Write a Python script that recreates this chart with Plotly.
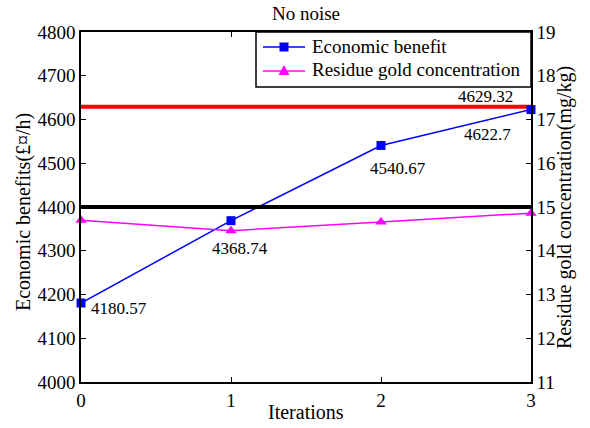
import plotly.graph_objects as go

iterations = [0, 1, 2, 3]
economic_benefit = [4180.57, 4368.74, 4540.67, 4622.7]
residue_gold = [14.70, 14.46, 14.66, 14.86]
benefit_labels = ["4180.57", "4368.74", "4540.67", "4622.7"]
upper_limit = 4629.32
residue_limit = 15
series_names = ["Economic benefit", "Residue gold concentration"]
series_colors = ["#0000ff", "#ff00ff"]

FONT = "Liberation Serif"
W, H = 590, 428
ML, MR, MT, MB = 81, 59, 32, 46
PW, PH = W - ML - MR, H - MT - MB


def px(x):
    return (x - ML) / PW


def py(y):
    return (MT + PH - y) / PH


fig = go.Figure()

# limit lines
fig.add_trace(go.Scatter(x=[iterations[0], iterations[-1]], y=[upper_limit, upper_limit],
                         mode="lines", line=dict(color="#ff0000", width=4),
                         showlegend=False, hoverinfo="skip"))
fig.add_trace(go.Scatter(x=[iterations[0], iterations[-1]], y=[residue_limit, residue_limit],
                         mode="lines", line=dict(color="#000000", width=4), yaxis="y2",
                         showlegend=False, hoverinfo="skip"))

fig.add_trace(go.Scatter(x=iterations, y=economic_benefit, mode="lines+markers",
                         name=series_names[0], showlegend=False,
                         line=dict(color=series_colors[0], width=1.5),
                         marker=dict(symbol="square", size=9, color=series_colors[0]),
                         cliponaxis=False))
fig.add_trace(go.Scatter(x=iterations, y=residue_gold, mode="lines+markers",
                         name=series_names[1], yaxis="y2", showlegend=False,
                         line=dict(color=series_colors[1], width=1.5),
                         marker=dict(symbol="triangle-up", size=10, color=series_colors[1]),
                         cliponaxis=False))

# value labels: (xshift, yshift, anchor)
label_pos = [(8, -5, "left"), (9, -28, "center"), (17, -23, "center"), (-44, -25, "center")]
for xi, yi, txt, (sx, sy, anc) in zip(iterations, economic_benefit, benefit_labels, label_pos):
    fig.add_annotation(x=xi, y=yi, text=txt, showarrow=False, xshift=sx, yshift=sy,
                       xanchor=anc, yanchor="middle",
                       font=dict(family=FONT, size=17, color="black"))
fig.add_annotation(x=iterations[-1], y=upper_limit, text=f"{upper_limit:.2f}", showarrow=False,
                   xshift=-46, yshift=10, xanchor="center", yanchor="middle",
                   font=dict(family=FONT, size=17, color="black"))

# axis titles
title_font = dict(family=FONT, size=20, color="black")
fig.add_annotation(x=0.5, y=py(412), xref="paper", yref="paper", text="Iterations",
                   showarrow=False, font=title_font, xanchor="center", yanchor="middle")
fig.add_annotation(x=px(24), y=py(212), xref="paper", yref="paper", text="Economic benefits(£¤/h)",
                   textangle=-90, showarrow=False, font=title_font, xanchor="center", yanchor="middle")
fig.add_annotation(x=px(564), y=py(208), xref="paper", yref="paper",
                   text="Residue gold concentration(mg/kg)",
                   textangle=-90, showarrow=False, font=title_font, xanchor="center", yanchor="middle")

# boxed legend in the top-right corner of the axes
box = dict(x0=256, x1=531, y0=32, y1=87)
fig.add_shape(type="rect", xref="paper", yref="paper",
              x0=px(box["x0"]), x1=px(box["x1"]), y0=py(box["y1"]), y1=py(box["y0"]),
              fillcolor="white", line=dict(color="black", width=1.5), layer="above")
rows = [47, 71]
for name, color, ry, sym in zip(series_names, series_colors, rows, ["square", "triangle"]):
    fig.add_shape(type="line", xref="paper", yref="paper",
                  x0=px(263), x1=px(305), y0=py(ry), y1=py(ry),
                  line=dict(color=color, width=1.5), layer="above")
    if sym == "square":
        fig.add_shape(type="rect", xref="paper", yref="paper",
                      x0=px(279.5), x1=px(288.5), y0=py(ry + 4.5), y1=py(ry - 4.5),
                      fillcolor=color, line=dict(color=color, width=0), layer="above")
    else:
        path = (f"M {px(278.5)},{py(ry + 4)} L {px(289.5)},{py(ry + 4)} "
                f"L {px(284)},{py(ry - 6)} Z")
        fig.add_shape(type="path", xref="paper", yref="paper", path=path,
                      fillcolor=color, line=dict(color=color, width=0), layer="above")
    fig.add_annotation(x=px(310), y=py(ry - 1), xref="paper", yref="paper", text=name,
                       showarrow=False, xanchor="left", yanchor="middle",
                       font=dict(family=FONT, size=19, color="black"))

axis_common = dict(showline=True, linecolor="black", linewidth=1.5, ticks="inside",
                   ticklen=5, tickcolor="black", showgrid=False, zeroline=False,
                   automargin=False,
                   tickfont=dict(family=FONT, size=19, color="black"))

fig.update_layout(
    width=W, height=H,
    margin=dict(l=ML, r=MR, t=MT, b=MB),
    paper_bgcolor="white", plot_bgcolor="white",
    title=dict(text="No noise", x=0.5, xref="paper", xanchor="center", y=1 - 13 / H,
               yanchor="middle", automargin=False,
               font=dict(family=FONT, size=19, color="black")),
    xaxis=dict(range=[0, 3], dtick=1, mirror="ticks", **axis_common),
    yaxis=dict(range=[4000, 4800], dtick=100, mirror=True, **axis_common),
    yaxis2=dict(range=[11, 19], dtick=1, overlaying="y", side="right", **axis_common),
    showlegend=False,
)

fig.write_html("out.html")
